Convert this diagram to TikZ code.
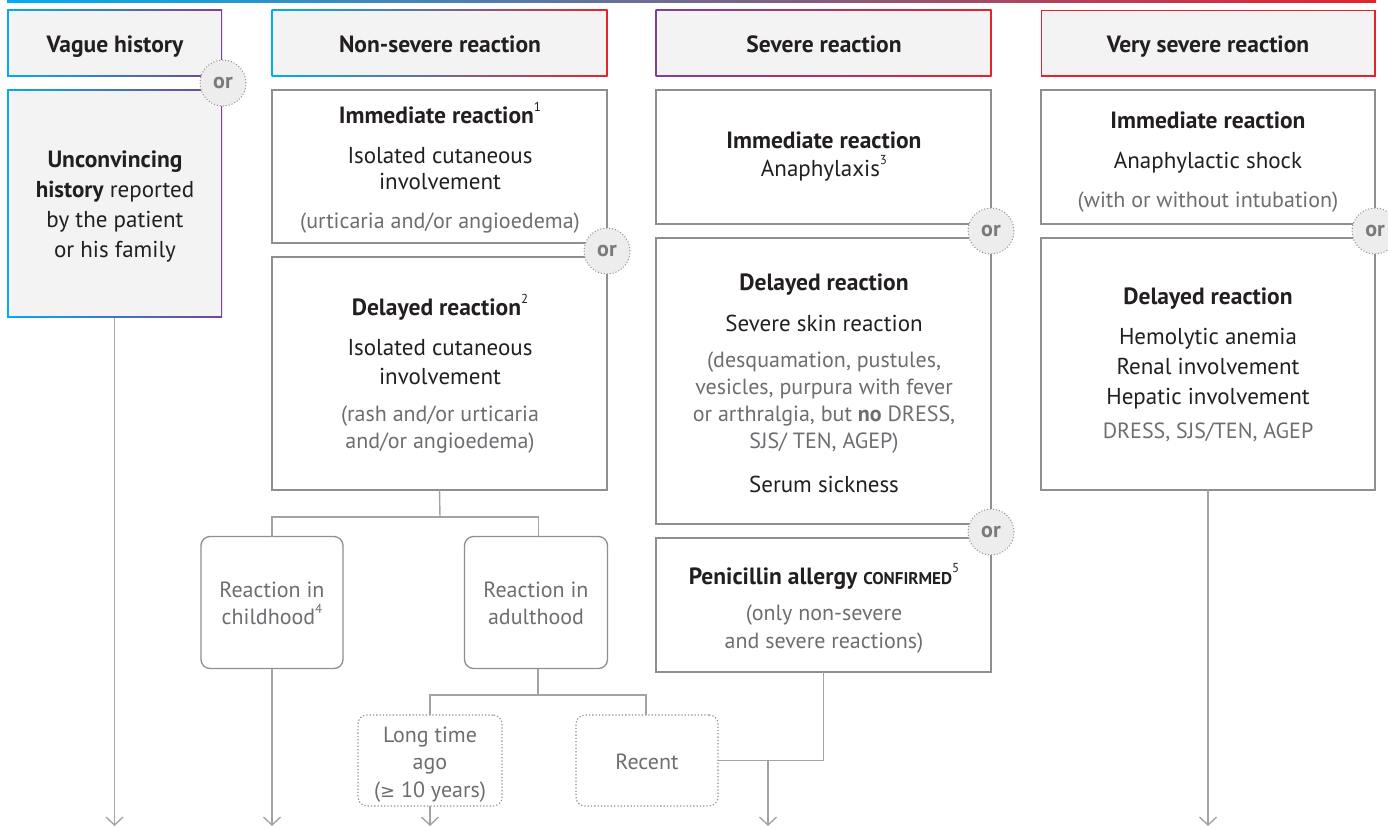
\documentclass[tikz,border=0pt]{standalone}
\usepackage{fontspec}
\setmainfont{PT Sans}
\newfontfamily\symf{DejaVu Sans}
\usetikzlibrary{arrows.meta}
\definecolor{cyanc}{HTML}{00AEEF}
\definecolor{purplec}{HTML}{7E3F98}
\definecolor{redc}{HTML}{E52330}
\definecolor{hdr}{HTML}{F3F3F3}
\definecolor{boxgray}{HTML}{8F8F8F}
\definecolor{lgray}{HTML}{A3A3A3}
\definecolor{dark}{HTML}{231F20}
\definecolor{gtext}{HTML}{6D6E71}
\definecolor{orfill}{HTML}{EDEDED}
\definecolor{orgray}{HTML}{7A7A7A}
\definecolor{dotgray}{HTML}{909090}
\newcommand\mysup[1]{\raisebox{0.5em}{\fontsize{13}{13}\selectfont\mdseries #1}}
\tikzset{
  gbox/.style={inner sep=0pt, outer sep=0pt, anchor=north west},
  hfill/.style={fill=hdr, inner sep=0pt, outer sep=0pt},
  box/.style={draw=boxgray, line width=1.3pt, fill=white, inner sep=0pt, outer sep=0pt, anchor=north west},
  rbox/.style={box, rounded corners=9pt},
  dbox/.style={box, draw=dotgray, dotted, line width=1.1pt, rounded corners=9pt},
  ornode/.style={circle, fill=orfill, draw=dotgray, dotted, line width=1pt, minimum size=46pt, inner sep=0pt, font=\bfseries\fontsize{22}{22}\selectfont, text=orgray},
  txt/.style={anchor=base, text=dark, font=\fontsize{23}{23}\selectfont, inner sep=0pt},
  txtb/.style={txt, font=\bfseries\fontsize{23.5}{23.5}\selectfont},
  txtg/.style={txt, text=gtext, font=\fontsize{22}{22}\selectfont},
  conn/.style={draw=lgray, line width=1.4pt},
  arr/.style={conn, -{Straight Barb[length=8pt, width=17pt, line width=1.4pt]}},
}
\begin{document}
\begin{tikzpicture}[x=1pt,y=-1pt]
\useasboundingbox (0,0) rectangle (1388,827);
\clip (0,0) rectangle (1388,827);
\coordinate (bot) at (0,826);
% top gradient rule
\shade[left color=cyanc, middle color=purplec, right color=redc] (7,0) rectangle (1376,2.2);

% header boxes
\node[gbox, left color=cyanc, right color=purplec, minimum width=215pt, minimum height=67pt] (vh) at (7,9.5) {};
\node[hfill, minimum width=212pt, minimum height=64pt] (vhf) at (vh.center) {};
\node[gbox, left color=cyanc, middle color=purplec, right color=redc, minimum width=336pt, minimum height=67pt] (nh) at (271.5,9.5) {};
\node[hfill, minimum width=333pt, minimum height=64pt] (nhf) at (nh.center) {};
\node[gbox, left color=purplec, right color=redc, minimum width=336pt, minimum height=67pt] (sh) at (655.5,9.5) {};
\node[hfill, minimum width=333pt, minimum height=64pt] (shf) at (sh.center) {};
\node[gbox, fill=redc, minimum width=335pt, minimum height=67pt] (vsh) at (1040.5,9.5) {};
\node[hfill, minimum width=332pt, minimum height=64pt] (vshf) at (vsh.center) {};
\node[gbox, left color=cyanc, right color=purplec, minimum width=215pt, minimum height=228pt] (unc) at (7,89.5) {};
\node[hfill, minimum width=212pt, minimum height=225pt] (uncf) at (unc.center) {};

% white boxes
\node[box, minimum width=335pt, minimum height=153pt] (nsi) at (272,90) {};
\node[box, minimum width=335pt, minimum height=233pt] (nsd) at (272,257) {};
\node[box, minimum width=335pt, minimum height=134pt] (si) at (656,90) {};
\node[box, minimum width=335pt, minimum height=286pt] (sd) at (656,238) {};
\node[box, minimum width=335pt, minimum height=134pt] (pen) at (656,538) {};
\node[box, minimum width=334pt, minimum height=134pt] (vsi) at (1041,90) {};
\node[box, minimum width=334pt, minimum height=252pt] (vsd) at (1041,238) {};
\node[rbox, minimum width=142pt, minimum height=132pt] (child) at (201,536.5) {};
\node[rbox, minimum width=143pt, minimum height=132pt] (adult) at (464.5,536.5) {};
\node[dbox, minimum width=144pt, minimum height=91pt] (long) at (358,715) {};
\node[dbox, minimum width=142pt, minimum height=91pt] (recent) at (576,715) {};

% connectors
\draw[arr] (unc.south) -- (unc.south |- bot);
\coordinate (j1) at (440,517);
\draw[conn] (nsd.south) -- (j1);
\draw[conn] (child.north) |- (j1) -| (538.5,536.5) coordinate (adtop);
\draw[arr] (child.south) -- (child.south |- bot);
\coordinate (j2) at (538,695);
\draw[conn] (538,668.5) coordinate (adbot) -- (j2);
\draw[conn] (long.north) |- (j2) -| (646,715) coordinate (rctop);
\draw[arr] (long.south) -- (long.south |- bot);
\coordinate (j4) at (768,761);
\draw[conn] (recent.east) -| (pen.south);
\draw[arr] (j4) -- (j4 |- bot);
\draw[arr] (vsd.south) -- (vsd.south |- bot);

% or circles
\node[ornode] (or1) at (223,83) {or};
\node[ornode] (or2) at (607,251) {or};
\node[ornode] (or3) at (991,231) {or};
\node[ornode] (or4) at (991,532) {or};
\node[ornode] (or5) at (1375,231) {or};

% texts: headers
\node[txtb] (h1) at (115,52) {Vague history};
\node[txtb] (h2) at (440,52) {Non-severe reaction};
\node[txtb] (h3) at (824,52) {Severe reaction};
\node[txtb] (h4) at (1208,52) {Very severe reaction};
% vague column
\node[txtb] (u1) at (115,167) {Unconvincing};
\node[txt] (u2) at (115,197) {\textbf{history} reported};
\node[txt] (u3) at (115,227) {by the patient};
\node[txt] (u4) at (115,257) {or his family};
% non-severe
\node[txtb] (a1) at (440,123) {Immediate reaction\mysup{1}};
\node[txt] (a2) at (440,163) {Isolated cutaneous};
\node[txt] (a3) at (440,189) {involvement};
\node[txtg] (a4) at (440,228) {(urticaria and/or angioedema)};
\node[txtb] (b1) at (440,315) {Delayed reaction\mysup{2}};
\node[txt] (b2) at (440,355) {Isolated cutaneous};
\node[txt] (b3) at (440,384) {involvement};
\node[txtg] (b4) at (440,421) {(rash and/or urticaria};
\node[txtg] (b5) at (440,448) {and/or angioedema)};
\node[txtg] (c1) at (272,597) {Reaction in};
\node[txtg] (c2) at (272,624) {childhood\mysup{4}};
\node[txtg] (d1) at (536,597) {Reaction in};
\node[txtg] (d2) at (536,624) {adulthood};
\node[txtg] (l1) at (430,742) {Long time};
\node[txtg] (l2) at (430,769) {ago};
\node[txtg] (l3) at (430,797) {({\symf\fontsize{18}{18}\selectfont ≥} 10 years)};
\node[txtg] (r1) at (647,769) {Recent};
% severe
\node[txtb] (e1) at (824,148) {Immediate reaction};
\node[txt] (e2) at (824,176) {Anaphylaxis\mysup{3}};
\node[txtb] (f1) at (824,290) {Delayed reaction};
\node[txt] (f2) at (824,331) {Severe skin reaction};
\node[txtg] (f3) at (824,367) {(desquamation, pustules,};
\node[txtg] (f4) at (824,394) {vesicles, purpura with fever};
\node[txtg] (f5) at (824,421) {or arthralgia, but \textbf{no} DRESS,};
\node[txtg] (f6) at (824,448) {SJS/ TEN, AGEP)};
\node[txt] (f7) at (824,492) {Serum sickness};
\node[txtb] (p1) at (824,584) {Penicillin allergy {\fontsize{17}{17}\selectfont CONFIRMED}\mysup{5}};
\node[txtg] (p2) at (824,620) {(only non-severe};
\node[txtg] (p3) at (824,648) {and severe reactions)};
% very severe
\node[txtb] (g1) at (1208,128) {Immediate reaction};
\node[txt] (g2) at (1208,168) {Anaphylactic shock};
\node[txtg] (g3) at (1208,207) {(with or without intubation)};
\node[txtb] (k1) at (1208,304) {Delayed reaction};
\node[txt] (k2) at (1208,344) {Hemolytic anemia};
\node[txt] (k3) at (1208,374) {Renal involvement};
\node[txt] (k4) at (1208,404) {Hepatic involvement};
\node[txtg] (k5) at (1208,438) {DRESS, SJS/TEN, AGEP};
\end{tikzpicture}
\end{document}
